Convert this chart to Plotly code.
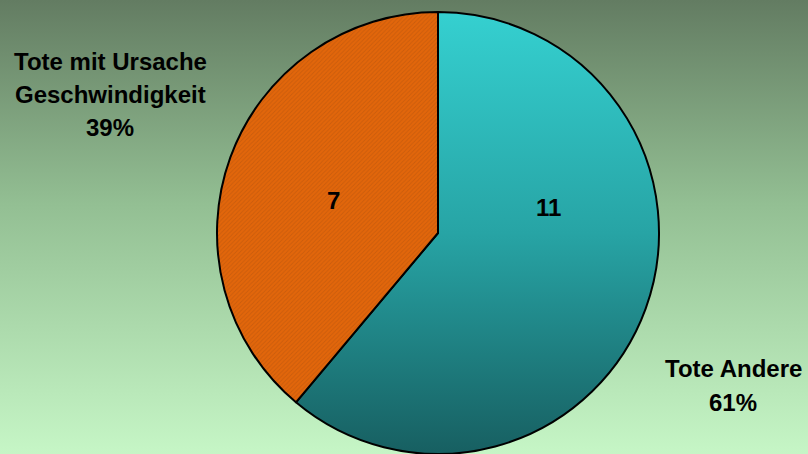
import numpy as np
import plotly.graph_objects as go

# ---- data ----
labels = ["Tote Andere", "Tote mit Ursache Geschwindigkeit"]
label_lines = [["Tote Andere"], ["Tote mit Ursache", "Geschwindigkeit"]]
values = [11, 7]

total = sum(values)
percents = [round(100 * v / total) for v in values]

W, H = 808, 454
# pie geometry (pixels)
CX, CY_TOP, R = 438, 233, 221
CY = H - CY_TOP

FONT = "Liberation Sans, Arial, sans-serif"

fig = go.Figure()

# background vertical gradient
fig.add_trace(go.Scatter(
    x=[0, W, W, 0, 0], y=[0, 0, H, H, 0], mode="lines", fill="toself",
    line=dict(width=0), hoverinfo="skip", showlegend=False,
    fillgradient=dict(type="vertical",
                      colorscale=[[0, "#c6f6c6"], [0.55, "#93bf93"], [1, "#637c62"]]),
))

# vertical gradient disk under the pie (shows through the teal slice)
t = np.linspace(0, 2 * np.pi, 721)
fig.add_trace(go.Scatter(
    x=CX + R * np.cos(t), y=CY + R * np.sin(t), mode="lines", fill="toself",
    line=dict(width=0), hoverinfo="skip", showlegend=False,
    fillgradient=dict(type="vertical",
                      colorscale=[[0, "#175f61"], [0.5, "#27a4a5"], [1, "#35d0d0"]]),
))

fig.add_trace(go.Pie(
    labels=labels, values=values, sort=False, direction="clockwise", rotation=0,
    textinfo="none", hoverinfo="label+value+percent", showlegend=False,
    domain=dict(x=[(CX - R) / W, (CX + R) / W], y=[(CY - R) / H, (CY + R) / H]),
    marker=dict(
        colors=["rgba(0,0,0,0)", "#dc640c"],
        line=dict(color="black", width=2),
        pattern=dict(shape=["", "/"], fgcolor="#b2520e", bgcolor=["rgba(0,0,0,0)", "#e2660b"],
                     size=3, solidity=0.3, fillmode="overlay"),
    ),
))

ann = []
# values inside slices
inside_pos = [(548, 207), (333, 200)]
for v, (px, py) in zip(values, inside_pos):
    ann.append(dict(x=px / W, y=1 - py / H, xref="paper", yref="paper", text=f"<b>{v}</b>",
                    showarrow=False, font=dict(family=FONT, size=24, color="black"),
                    xanchor="center", yanchor="middle"))

# outside labels
label_pos = [(733, [368, 402]), (110, [62, 95, 127])]
for lines, p, (px, ys) in zip(label_lines, percents, label_pos):
    texts = lines + [f"{p}%"]
    for txt, py in zip(texts, ys):
        ann.append(dict(x=px / W, y=1 - py / H, xref="paper", yref="paper",
                        text=f"<b>{txt}</b>", showarrow=False,
                        font=dict(family=FONT, size=24, color="black"),
                        xanchor="center", yanchor="middle"))

fig.update_layout(
    width=W, height=H, margin=dict(l=0, r=0, t=0, b=0),
    paper_bgcolor="#93bf93", plot_bgcolor="rgba(0,0,0,0)",
    xaxis=dict(range=[0, W], domain=[0, 1], visible=False, fixedrange=True),
    yaxis=dict(range=[0, H], domain=[0, 1], visible=False, fixedrange=True),
    annotations=ann,
    font=dict(family=FONT),
)

fig.write_html("out.html", config={"displayModeBar": False},
               post_script="document.body.style.margin='0';document.body.style.overflow='hidden';")
